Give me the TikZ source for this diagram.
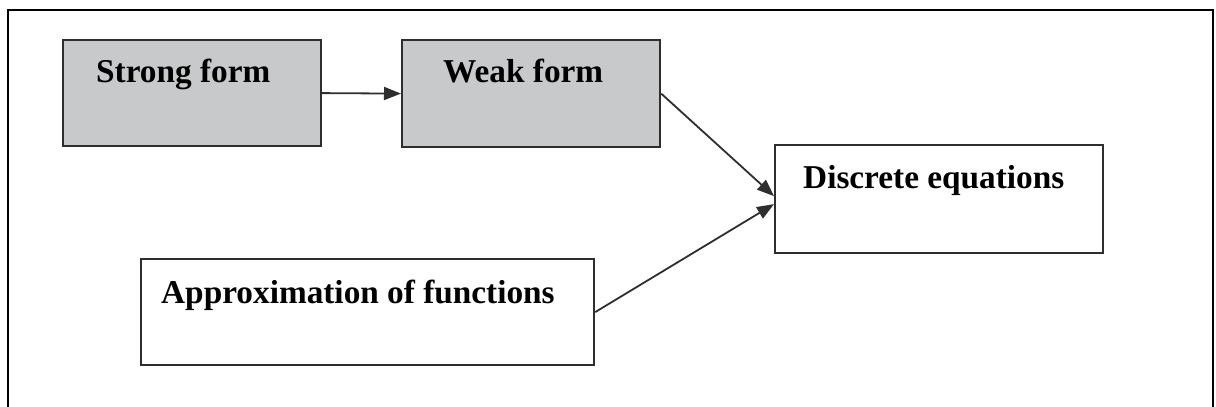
\documentclass[tikz,border=0pt]{standalone}
\usepackage{fontspec}
\setmainfont{Liberation Serif}
\usetikzlibrary{arrows.meta}
\definecolor{boxgray}{HTML}{C8C9CB}
\definecolor{linegray}{HTML}{2E2E2E}
\tikzset{
  box/.style={draw=linegray, line width=2.2pt, rectangle, inner sep=0pt, anchor=north west},
  grayfill/.style={fill=boxgray},
  lbl/.style={anchor=base west, inner sep=0pt, font=\fontsize{33.3}{35}\selectfont\bfseries, text=black},
  conn/.style={draw=linegray, line width=1.8pt, -{Triangle[length=17pt,width=13pt]}},
}
\begin{document}
\begin{tikzpicture}[x=1pt,y=-1pt]
\useasboundingbox (0,0) rectangle (1216,407);
\draw[black, line width=2.4pt] (8,410) -- (8,10) -- (1213,10) -- (1213,410);
\node[box, grayfill, minimum width=258pt, minimum height=106pt] (strong) at (62,39) {};
\node[box, grayfill, minimum width=258pt, minimum height=107pt] (weak) at (401,39) {};
\node[box, minimum width=328pt, minimum height=108pt] (disc) at (774,144) {};
\node[box, minimum width=453pt, minimum height=106pt] (approx) at (140,258) {};
\node[lbl] (tstrong) at (96,82) {Strong form};
\node[lbl] (tweak) at (443,82) {Weak form};
\node[lbl] (tdisc) at (803,188) {Discrete equations};
\node[lbl] (tapprox) at (161,303) {Approximation of functions};
\draw[conn] (strong.east) -- (weak.west);
\draw[conn] (weak.east) -- ([yshift=3pt]disc.west);
\draw[conn] (approx.east) -- ([yshift=-5pt]disc.west);
\end{tikzpicture}
\end{document}
